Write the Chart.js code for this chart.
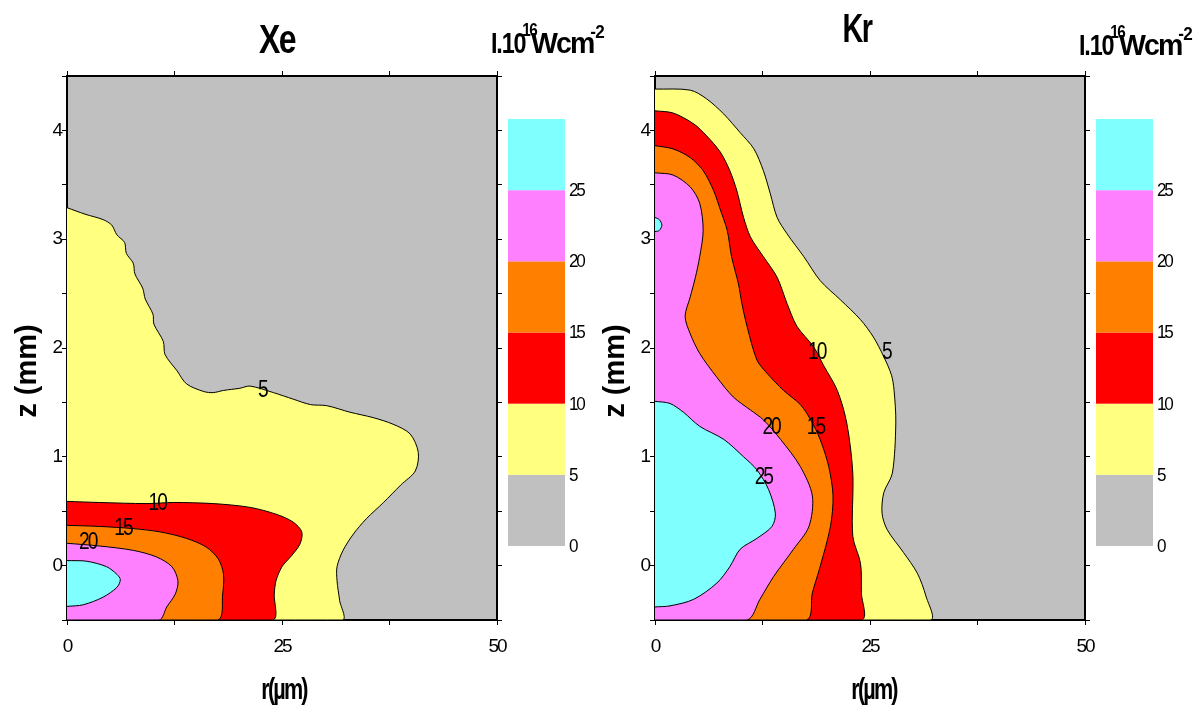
<!DOCTYPE html>
<html><head><meta charset="utf-8">
<script src="https://cdn.jsdelivr.net/npm/chart.js@4"></script>
<style>
html,body{margin:0;padding:0;background:#fff;width:1200px;height:706px;overflow:hidden;}
canvas{position:absolute;top:0;}
#cXe{left:0;}
#cKr{left:588px;}
</style></head><body>
<canvas id="cXe" width="620" height="706"></canvas>
<canvas id="cKr" width="612" height="706"></canvas>
<script>
// ---------- data ----------
const levels = [0, 5, 10, 15, 20, 25];
const levelColors = ['#c0c0c0', '#ffff80', '#ff0000', '#ff8000', '#ff80ff', '#80ffff'];
const rMajorTicks = [0, 25, 50];
const zMajorTicks = [0, 1, 2, 3, 4];

// Xe contour lines (r in um, z in mm)
const xe5R = [0,2.1,4.2,5.2,5.8,6.7,6.9,7.7,7.9,8.8,9.1,10.0,10.1,11.2,11.4,12.8,13.9,15.9,17.0,18.2,20.1,21.3,24.0,26.3,28.3,30.2,32.9,35.6,37.9,39.9,40.85,40.5,38.8,36.8,34.8,33.3,32.1,31.4,31.4,31.7,32.0];
const xe5Z = [3.29,3.23,3.18,3.13,3.04,2.97,2.87,2.78,2.68,2.55,2.45,2.31,2.22,2.06,1.94,1.79,1.67,1.60,1.59,1.61,1.63,1.65,1.59,1.53,1.48,1.47,1.41,1.36,1.30,1.21,1.04,0.87,0.74,0.58,0.43,0.29,0.14,-0.01,-0.14,-0.32,-0.5];
const xe10R = [0,3.8,9.3,12.4,17.0,21.3,24.4,26.3,27.3,27.1,26.1,25.0,24.3,24.1,23.9];
const xe10Z = [0.59,0.58,0.57,0.58,0.57,0.535,0.47,0.40,0.31,0.20,0.09,-0.01,-0.14,-0.26,-0.5];
const xe15R = [0,3.8,7.7,10.8,13.9,16.2,17.6,18.2,18.1,17.5];
const xe15Z = [0.37,0.36,0.34,0.31,0.25,0.17,0.06,-0.08,-0.26,-0.5];
const xe20R = [0,3.8,7.7,10.4,12.2,12.9,12.6,11.6,10.7];
const xe20Z = [0.205,0.18,0.14,0.08,-0.01,-0.14,-0.26,-0.38,-0.5];
const xe25R = [0,2.3,4.6,5.8,6.2,5.8,4.2,1.9,0];
const xe25Z = [0.046,0.04,-0.01,-0.08,-0.13,-0.2,-0.29,-0.36,-0.375];
const xeLabelText = ['5','10','15','20'];
const xeLabelR = [22.7,10.5,6.5,2.4];
const xeLabelZ = [1.62,0.58,0.35,0.22];

// Kr contour lines
const kr5R = [0,4.1,6.0,8.0,9.9,11.5,12.6,13.4,14.2,15.35,17.3,19.2,21.6,23.9,25.4,26.6,27.5,27.8,28.0,27.6,26.6,26.4,27.0,28.9,30.5,31.5,32.0];
const kr5Z = [4.38,4.37,4.29,4.15,3.98,3.83,3.63,3.42,3.2,3.05,2.84,2.62,2.44,2.26,2.10,1.92,1.75,1.61,1.31,0.85,0.67,0.48,0.33,0.12,-0.07,-0.28,-0.5];
const kr10R = [0,2.1,4.5,6.0,7.6,8.7,9.5,10.3,11.1,12.6,14.2,15.35,16.5,18.45,19.6,21.2,22.3,23.0,23.0,23.9,24.0,24.0];
const kr10Z = [4.18,4.16,4.06,3.95,3.80,3.63,3.45,3.20,3.02,2.84,2.65,2.41,2.20,2.01,1.84,1.61,1.31,0.85,0.27,0.02,-0.25,-0.5];
const kr15R = [0,2.1,4.1,5.6,6.8,7.6,8.4,8.9,9.7,10.1,10.7,11.85,13.0,14.95,16.9,18.1,19.2,20.2,20.7,20.4,19.2,18.3,17.6];
const kr15Z = [3.86,3.83,3.75,3.63,3.45,3.27,3.08,2.84,2.59,2.41,2.20,1.89,1.77,1.61,1.48,1.34,1.16,0.91,0.64,0.36,-0.01,-0.25,-0.5];
const kr20R = [0,2.1,4.1,5.2,5.6,5.2,4.7,4.1,3.5,4.1,5.2,7.2,9.1,11.1,12.6,14.6,16.9,18.3,17.9,16.1,13.8,12.2,10.7];
const kr20Z = [3.61,3.59,3.48,3.33,3.08,2.84,2.65,2.47,2.29,2.13,1.95,1.73,1.55,1.43,1.34,1.16,0.91,0.64,0.36,0.15,-0.10,-0.31,-0.5];
const kr25R = [0,1.75,3.3,5.2,8.0,10.3,11.85,13.2,14.0,13.6,11.85,9.9,8.7,7.2,4.5,1.75,0];
const kr25Z = [1.51,1.49,1.41,1.28,1.16,1.0,0.88,0.70,0.48,0.36,0.25,0.15,-0.01,-0.16,-0.31,-0.37,-0.38];
const krSpotR = [0,0.5,0.8,0.5,0];
const krSpotZ = [3.2,3.18,3.13,3.08,3.07];
const krLabelText = ['10','5','20','15','25'];
const krLabelR = [18.8,26.9,13.5,18.65,12.6];
const krLabelZ = [1.97,1.97,1.28,1.28,0.82];

const rMin = 0, rMax = 50, zMin = -0.5, zMax = 4.5;

// ---------- helpers ----------
const FAM = '"Liberation Sans", Arial, Helvetica, sans-serif';

function region(r, z) {
  const pts = r.map((v, i) => ({x: v, y: z[i]}));
  const last = pts[pts.length - 1];
  if (last.y <= zMin && last.x > rMin) pts.push({x: rMin, y: zMin});
  return pts;
}

function drawText(ctx, text, x, y, o) {
  ctx.save();
  ctx.font = o.font;
  ctx.fillStyle = o.color || '#000';
  ctx.textAlign = o.align || 'center';
  ctx.textBaseline = o.baseline || 'alphabetic';
  ctx.letterSpacing = (o.ls || 0) + 'px';
  ctx.translate(x, y);
  if (o.rot) ctx.rotate(o.rot);
  ctx.scale(o.sx || 1, 1);
  ctx.fillText(text, 0, 0);
  ctx.restore();
}

function drawUnit(ctx, x, y) {
  const parts = [
    {t: 'I.10', font: 'bold 30px ' + FAM, sx: 0.78, ls: -1.5, dy: 0, dx: -3},
    {t: '16', font: 'bold 18px ' + FAM, sx: 0.85, ls: -2, dy: -17, dx: -5},
    {t: 'Wcm', font: 'bold 30px ' + FAM, sx: 0.95, ls: -2, dy: 0, dx: -3},
    {t: '-2', font: 'bold 19px ' + FAM, sx: 0.9, ls: -1, dy: -15, dx: 0}
  ];
  let cx = x;
  ctx.save();
  for (const p of parts) {
    ctx.font = p.font;
    ctx.letterSpacing = p.ls + 'px';
    const w = ctx.measureText(p.t).width * p.sx;
    drawText(ctx, p.t, cx, y + p.dy, {font: p.font, sx: p.sx, ls: p.ls, align: 'left'});
    cx += w + p.dx;
  }
  ctx.restore();
}

const bgPlugin = {
  id: 'plotBg',
  beforeDraw(chart) {
    const {ctx, chartArea: a} = chart;
    ctx.save();
    ctx.fillStyle = levelColors[0];
    ctx.fillRect(a.left, a.top, a.right - a.left, a.bottom - a.top);
    ctx.restore();
    ctx.letterSpacing = '-2px';
  }
};

function makePanel(canvasId, cfg) {
  const canvas = document.getElementById(canvasId);
  const W = canvas.width;
  const datasets = cfg.contours.map(c => ({
    data: region(c.r, c.z),
    backgroundColor: levelColors[levels.indexOf(c.level)],
    borderColor: '#000',
    borderWidth: 1,
    fill: 'shape',
    tension: 0.3,
    pointRadius: 0,
    pointHoverRadius: 0
  }));
  const axisCommon = (pos) => ({
    type: 'linear',
    position: pos,
    z: 1,
    grid: {drawOnChartArea: false, drawTicks: true, tickLength: 5, color: '#000', lineWidth: 1},
    border: {display: true, color: '#000', width: 2}
  });
  const tickFont = {family: FAM, size: 19};
  const textPlugin = {
    id: 'texts',
    afterDraw(chart) {
      const ctx = chart.ctx;
      ctx.letterSpacing = '0px';
      const a = chart.chartArea;
      const xs = chart.scales.x, ys = chart.scales.y;
      // contour labels
      cfg.labels.text.forEach((t, i) => {
        drawText(ctx, t, xs.getPixelForValue(cfg.labels.r[i]), ys.getPixelForValue(cfg.labels.z[i]) + 1,
          {font: '24px ' + FAM, sx: 0.8, ls: -2.5, baseline: 'middle'});
      });
      // title
      drawText(ctx, cfg.title, cfg.titleX, cfg.titleY, {font: 'bold 40px ' + FAM, sx: cfg.titleSx, ls: -2});
      // unit label
      drawUnit(ctx, a.right - 6, cfg.unitY);
      // axis titles
      drawText(ctx, 'z (mm)', 28, 371, {font: 'bold 29px ' + FAM, rot: -Math.PI / 2, baseline: 'middle'});
      drawText(ctx, 'r(\u00b5m)', cfg.rTitleX, 699, {font: 'bold 30px ' + FAM, sx: 0.72, ls: -2.5});
      // colour bar
      const bx = a.right + 11, bw = 57, btop = a.top + 43, bbot = a.bottom - 74;
      const nb = levelColors.length;
      const bh = (bbot - btop) / nb;
      for (let i = 0; i < nb; i++) {
        ctx.fillStyle = levelColors[i];
        ctx.fillRect(bx, bbot - (i + 1) * bh, bw, bh);
      }
      levels.forEach((lv, i) => {
        drawText(ctx, String(lv), bx + bw + 4, bbot - i * bh + 1,
          {font: '18px ' + FAM, ls: -2.5, align: 'left', baseline: 'middle', sx: 0.95});
      });
    }
  };
  return new Chart(canvas, {
    type: 'line',
    data: {datasets},
    options: {
      responsive: false,
      animation: false,
      devicePixelRatio: 1,
      events: [],
      layout: {padding: {left: 0, top: 70, right: W - 6 - 497, bottom: 46}},
      plugins: {legend: {display: false}, tooltip: {enabled: false}, title: {display: false}},
      scales: {
        x: Object.assign(axisCommon('bottom'), {
          min: rMin, max: rMax,
          ticks: {stepSize: 12.5, autoSkip: false, maxRotation: 0, padding: 10, color: '#000', font: tickFont,
            callback: v => rMajorTicks.includes(v) ? String(v) : ''},
          afterFit: s => { s.height = 40; }
        }),
        x2: Object.assign(axisCommon('top'), {
          min: rMin, max: rMax,
          ticks: {stepSize: 12.5, autoSkip: false, display: false},
          afterFit: s => { s.height = 6; }
        }),
        y: Object.assign(axisCommon('left'), {
          min: zMin, max: zMax,
          ticks: {stepSize: 0.5, autoSkip: false, padding: 1, color: '#000', font: tickFont,
            callback: v => zMajorTicks.includes(v) ? String(v) : ''},
          afterFit: s => { s.width = 67; }
        }),
        y2: Object.assign(axisCommon('right'), {
          min: zMin, max: zMax,
          ticks: {stepSize: 0.5, autoSkip: false, display: false},
          afterFit: s => { s.width = 6; }
        })
      }
    },
    plugins: [bgPlugin, textPlugin]
  });
}

makePanel('cXe', {
  title: 'Xe', titleX: 277, titleY: 53, titleSx: 0.8, unitY: 53, rTitleX: 284,
  contours: [
    {level: 25, r: xe25R, z: xe25Z},
    {level: 20, r: xe20R, z: xe20Z},
    {level: 15, r: xe15R, z: xe15Z},
    {level: 10, r: xe10R, z: xe10Z},
    {level: 5, r: xe5R, z: xe5Z}
  ],
  labels: {text: xeLabelText, r: xeLabelR, z: xeLabelZ}
});

makePanel('cKr', {
  title: 'Kr', titleX: 269, titleY: 42, titleSx: 0.72, unitY: 55, rTitleX: 286,
  contours: [
    {level: 25, r: krSpotR, z: krSpotZ},
    {level: 25, r: kr25R, z: kr25Z},
    {level: 20, r: kr20R, z: kr20Z},
    {level: 15, r: kr15R, z: kr15Z},
    {level: 10, r: kr10R, z: kr10Z},
    {level: 5, r: kr5R, z: kr5Z}
  ],
  labels: {text: krLabelText, r: krLabelR, z: krLabelZ}
});
</script>
</body></html>
